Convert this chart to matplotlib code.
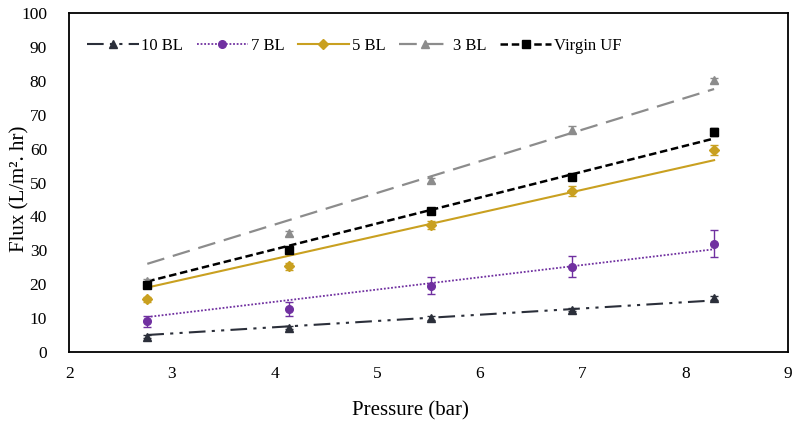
import matplotlib
matplotlib.use('Agg')
import matplotlib.pyplot as plt

plt.rcParams['font.family'] = ['Liberation Serif', 'DejaVu Serif']

# pressure values (bar)
pressure = [2.76, 4.14, 5.52, 6.90, 8.28]

# measured flux and error bars
flux_10bl = [4.5, 7.2, 10.0, 12.5, 15.8]
err_10bl = [0.4, 0.5, 0.5, 0.5, 0.6]
flux_7bl = [9.0, 12.7, 19.5, 25.2, 32.0]
err_7bl = [1.5, 2.0, 2.5, 3.0, 4.0]
flux_5bl = [15.5, 25.3, 37.5, 47.5, 59.5]
err_5bl = [0.8, 1.0, 1.2, 1.5, 1.5]
flux_3bl = [20.8, 35.0, 50.6, 65.6, 80.2]
err_3bl = [0.6, 0.8, 0.8, 1.0, 0.8]
flux_virgin = [19.7, 30.2, 41.6, 51.6, 65.0]
err_virgin = [0.8, 0.8, 0.6, 0.8, 1.2]

# linear trendline end values
trend_x = [2.76, 8.28]
trend_10bl = [5.0, 15.2]
trend_7bl = [10.3, 30.3]
trend_5bl = [19.0, 56.6]
trend_3bl = [26.0, 77.6]
trend_virgin = [20.8, 63.0]

labels = ['10 BL', '7 BL', '5 BL', '3 BL', 'Virgin UF']
colors = ['#2b2f3a', '#7030a0', '#c9a020', '#8c8c8c', '#000000']
markers = ['^', 'o', 'D', '^', 's']
msizes = [5.5, 5.5, 5.5, 5.5, 5.5]
styles = [(0, (8, 3, 1.5, 3, 1.5, 3)), (0, (1, 1)), '-', (0, (8, 4)), (0, (3, 1.5))]
widths = [1.5, 1.3, 1.5, 1.6, 1.8]

fluxes = [flux_10bl, flux_7bl, flux_5bl, flux_3bl, flux_virgin]
errs = [err_10bl, err_7bl, err_5bl, err_3bl, err_virgin]
trends = [trend_10bl, trend_7bl, trend_5bl, trend_3bl, trend_virgin]

fig = plt.figure(figsize=(7.96, 4.24), dpi=100)
ax = fig.add_axes([0.087, 0.170, 0.903, 0.799])

handles = []
for lab, y, e, t, c, m, ms, ls, lw in zip(labels, fluxes, errs, trends, colors,
                                          markers, msizes, styles, widths):
    ax.errorbar(pressure, y, yerr=e, fmt=m, color=c, ms=ms, capsize=3,
                elinewidth=1, capthick=1, zorder=3)
    ax.plot(trend_x, t, color=c, linestyle=ls, linewidth=lw, zorder=2)
    h, = ax.plot([], [], color=c, linestyle=ls, linewidth=lw, marker=m, ms=ms,
                 label=lab)
    handles.append(h)

ax.set_xlim(2, 9)
ax.set_ylim(0, 100)
ax.set_xticks(range(2, 10))
ax.set_yticks(range(0, 101, 10))
ax.tick_params(axis='both', length=0, labelsize=12.5)
ax.tick_params(axis='y', pad=16)
ax.tick_params(axis='x', pad=10)
for s in ax.spines.values():
    s.set_linewidth(1.3)

ax.set_xlabel('Pressure (bar)', fontsize=15)
ax.xaxis.set_label_coords(0.474, -0.145)
ax.set_ylabel('Flux (L/m². hr)', fontsize=15)
ax.yaxis.set_label_coords(-0.056, 0.48)

ax.legend(handles=handles, loc='upper left', ncol=5, frameon=False,
          fontsize=12, handlelength=3.1, handletextpad=0.15, columnspacing=0.8,
          bbox_to_anchor=(0.004, 0.972))

fig.savefig('out.png', dpi=100)
